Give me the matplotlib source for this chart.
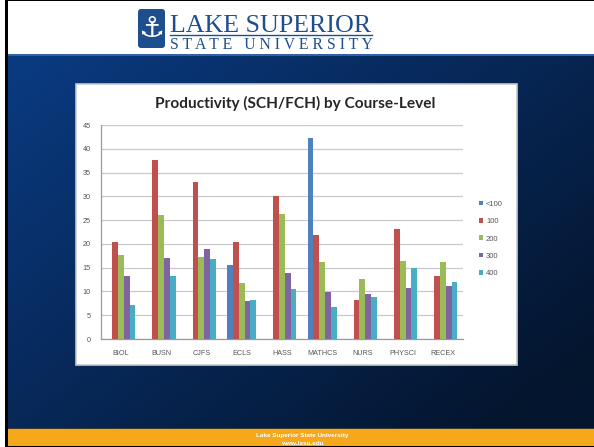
import numpy as np
import matplotlib
matplotlib.use('Agg')
import matplotlib.pyplot as plt
from matplotlib.patches import Rectangle, FancyBboxPatch

# ---------------- data ----------------
categories = ['BIOL', 'BUSN', 'CJFS', 'ECLS', 'HASS', 'MATHCS', 'NURS', 'PHYSCI', 'RECEX']
series_names = ['<100', '100', '200', '300', '400']
lvl_lt100 = [np.nan, np.nan, np.nan, 15.5, np.nan, 42.3, np.nan, np.nan, np.nan]
lvl_100 = [20.5, 37.6, 33.0, 20.5, 30.0, 21.9, 8.2, 23.2, 13.3]
lvl_200 = [17.6, 26.0, 17.3, 11.7, 26.2, 16.2, 12.6, 16.5, 16.2]
lvl_300 = [13.3, 17.0, 19.0, 7.9, 13.8, 9.9, 9.5, 10.8, 11.1]
lvl_400 = [7.1, 13.3, 16.8, 8.1, 10.6, 6.8, 8.8, 14.9, 12.0]
y_ticks = [0, 5, 10, 15, 20, 25, 30, 35, 40, 45]
title = 'Productivity (SCH/FCH) by Course-Level'

series = [lvl_lt100, lvl_100, lvl_200, lvl_300, lvl_400]
colors = ['#4F81BD', '#C0504D', '#9BBB59', '#8064A2', '#4BACC6']

W, H = 594, 447
fig = plt.figure(figsize=(W / 100, H / 100), dpi=100)
fig.patch.set_facecolor('white')

# ---------------- slide background ----------------
bg = fig.add_axes([0, 0, 1, 1])
bg.set_xlim(0, W)
bg.set_ylim(H, 0)
bg.axis('off')

# blue gradient
nx, ny = 200, 120
xx, yy = np.meshgrid(np.linspace(0, 1, nx), np.linspace(0, 1, ny))
t = np.clip(0.6 * xx + 0.5 * yy, 0, 1)
c1 = np.array([0x0a, 0x3b, 0x82]) / 255
c2 = np.array([0x04, 0x15, 0x2e]) / 255
img = c1[None, None, :] * (1 - t[..., None]) + c2[None, None, :] * t[..., None]
bg.imshow(img, extent=[8, W, 429, 54], aspect='auto', zorder=1, interpolation='bilinear')
bg.add_patch(Rectangle((8, 54), W - 8, 1.5, color='#2f62a8', zorder=2, lw=0))

# yellow footer
bg.add_patch(Rectangle((8, 429), W - 8, 18, color='#F5A81C', zorder=2, lw=0))
bg.add_patch(Rectangle((8, 428), W - 8, 1.2, color='#3b3a2a', zorder=2, lw=0))
bg.text(302, 435.5, 'Lake Superior State University', color='white', fontsize=4.6,
        fontweight='bold', family='Liberation Sans', ha='center', va='center', zorder=3)
bg.text(302, 443.5, 'www.lssu.edu', color='white', fontsize=4.6,
        fontweight='bold', family='Liberation Sans', ha='center', va='center', zorder=3)

# black frame lines
bg.add_patch(Rectangle((5, 0), 3, H, color='black', zorder=4, lw=0))
bg.add_patch(Rectangle((5, 0), W - 5, 1.2, color='black', zorder=4, lw=0))
bg.add_patch(Rectangle((5, H - 1.5), W - 5, 1.5, color='black', zorder=4, lw=0))

# logo
logo_blue = '#1F4E8F'
bg.add_patch(FancyBboxPatch((138, 9), 27, 39, boxstyle='round,pad=0,rounding_size=3',
                            fc=logo_blue, ec='none', zorder=3))
bg.text(151.5, 29, '\u2693', color='white', fontsize=21, family='DejaVu Sans',
        ha='center', va='center', zorder=4)
t_lake = bg.text(170, 32.5, 'LAKE SUPERIOR', color=logo_blue, fontsize=20,
                 family='Liberation Serif', ha='left', va='baseline', zorder=4)
bg.plot([170, 372], [35.0, 35.0], color=logo_blue, lw=1.0, zorder=4)
t_state = bg.text(170, 49, 'S T A T E   U N I V E R S I T Y', color=logo_blue, fontsize=11,
                  family='Liberation Serif', ha='left', va='baseline', zorder=4)

# chart panel
bg.add_patch(Rectangle((75.5, 83.5), 441, 281, fc='white', ec='#c8c8c8', lw=1.2, zorder=5))

# ---------------- chart ----------------
ax_left, ax_right, ax_top, ax_bot = 100.7, 463, 125, 339
ax = fig.add_axes([ax_left / W, (H - ax_bot) / H, (ax_right - ax_left) / W, (ax_bot - ax_top) / H])
ax.set_zorder(10)
ax.patch.set_alpha(0)

x = np.arange(len(categories))
bw = 0.145
handles = []
for i, (vals, col, name) in enumerate(zip(series, colors, series_names)):
    h = ax.bar(x + (i - 2) * bw, vals, width=bw, color=col, lw=0, label=name, zorder=3)
    handles.append(h)

ax.set_xlim(-0.5, len(categories) - 0.5)
ax.set_ylim(0, 45)
ax.set_yticks(y_ticks)
ax.set_xticks(x)
ax.set_xticklabels(categories)
ax.yaxis.grid(True, color='#c9c9c9', lw=0.9, zorder=0)
ax.set_axisbelow(True)
for s in ['top', 'right']:
    ax.spines[s].set_visible(False)
ax.spines['left'].set_color('#9a9a9a')
ax.spines['bottom'].set_color('#9a9a9a')
ax.spines['left'].set_linewidth(0.9)
ax.spines['bottom'].set_linewidth(0.9)
ax.tick_params(axis='y', length=0, pad=7, labelsize=5.2, labelcolor='#555555')
ax.tick_params(axis='x', length=0, pad=8, labelsize=5.2, labelcolor='#555555')
for lab in ax.get_xticklabels() + ax.get_yticklabels():
    lab.set_family('Liberation Sans')

leg = ax.legend(handles=handles, labels=series_names, loc='center left',
                bbox_to_anchor=(475 / W, (H - 239) / H), bbox_transform=fig.transFigure,
                frameon=False, fontsize=5.5, handlelength=0.55, handleheight=0.55,
                handletextpad=0.4, labelspacing=1.35, borderpad=0)
for txt in leg.get_texts():
    txt.set_color('#555555')
    txt.set_family('Liberation Sans')

t_title = fig.text(295 / W, (H - 103) / H, title, ha='center', va='center',
                   fontsize=11, fontweight='bold', family='Lato', color='#262626', zorder=20)

# fit widths of some texts
fig.canvas.draw()
r = fig.canvas.get_renderer()
for txt, target in [(t_title, 279), (t_lake, 202), (t_state, 202)]:
    w = txt.get_window_extent(r).width
    txt.set_fontsize(txt.get_fontsize() * target / w)

fig.savefig('out.png', dpi=100)
